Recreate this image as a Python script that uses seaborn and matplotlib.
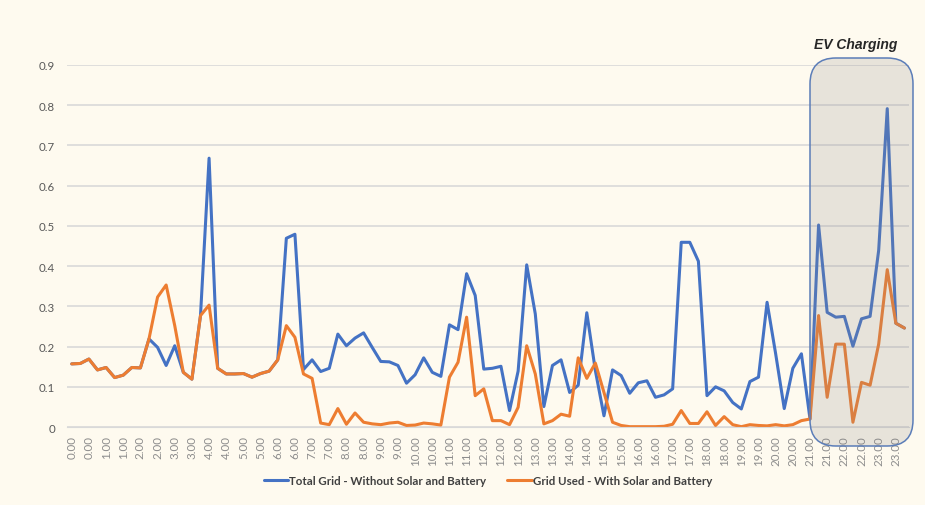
import matplotlib
matplotlib.use("Agg")
import matplotlib.pyplot as plt
from matplotlib.patches import FancyBboxPatch
import pandas as pd
import numpy as np
import seaborn as sns

# readings, every 15 min-ish (98 points)
total_grid = [0.157, 0.158, 0.169, 0.142, 0.148, 0.123, 0.129, 0.148, 0.147, 0.219,
              0.198, 0.153, 0.202, 0.136, 0.119, 0.277, 0.668, 0.146, 0.132, 0.132,
              0.133, 0.124, 0.133, 0.139, 0.167, 0.469, 0.479, 0.143, 0.167, 0.138,
              0.146, 0.231, 0.202, 0.221, 0.234, 0.198, 0.163, 0.162, 0.153, 0.109,
              0.130, 0.172, 0.136, 0.126, 0.254, 0.242, 0.381, 0.327, 0.144, 0.146,
              0.151, 0.041, 0.139, 0.403, 0.281, 0.051, 0.153, 0.167, 0.086, 0.104,
              0.284, 0.140, 0.028, 0.142, 0.128, 0.084, 0.110, 0.115, 0.074, 0.080,
              0.095, 0.459, 0.459, 0.412, 0.078, 0.100, 0.090, 0.061, 0.045, 0.113,
              0.124, 0.310, 0.182, 0.046, 0.146, 0.182, 0.020, 0.502, 0.285, 0.273,
              0.275, 0.201, 0.269, 0.275, 0.439, 0.791, 0.258, 0.246]

grid_used = [0.157, 0.158, 0.169, 0.142, 0.148, 0.123, 0.129, 0.148, 0.147, 0.219,
             0.323, 0.353, 0.252, 0.136, 0.119, 0.277, 0.303, 0.146, 0.132, 0.132,
             0.133, 0.124, 0.133, 0.139, 0.167, 0.252, 0.223, 0.132, 0.121, 0.010,
             0.006, 0.046, 0.007, 0.035, 0.012, 0.008, 0.006, 0.010, 0.012, 0.004,
             0.005, 0.010, 0.008, 0.005, 0.124, 0.161, 0.273, 0.078, 0.095, 0.016,
             0.016, 0.006, 0.049, 0.202, 0.132, 0.008, 0.016, 0.032, 0.027, 0.172,
             0.121, 0.159, 0.086, 0.012, 0.004, 0.001, 0.001, 0.001, 0.001, 0.002,
             0.007, 0.041, 0.009, 0.009, 0.038, 0.004, 0.026, 0.006, 0.001, 0.006,
             0.004, 0.003, 0.006, 0.003, 0.006, 0.016, 0.020, 0.277, 0.074, 0.206,
             0.206, 0.012, 0.111, 0.104, 0.206, 0.391, 0.258, 0.246]

time_labels = ["0.00", "0.00", "1.00", "1.00", "2.00", "2.00", "3.00", "3.00",
               "4.00", "4.00", "5.00", "5.00", "6.00", "6.00", "7.00", "7.00",
               "8.00", "8.00", "9.00", "9.00", "10.00", "10.00", "11.00", "11.00",
               "12.00", "12.00", "12.00", "13.00", "13.00", "14.00", "14.00",
               "15.00", "15.00", "16.00", "16.00", "17.00", "17.00", "18.00",
               "18.00", "19.00", "19.00", "20.00", "20.00", "21.00", "21.00",
               "22.00", "22.00", "23.00", "23.00"]

series_names = ["Total Grid - Without Solar and Battery",
                "Grid Used - With Solar and Battery"]

df = pd.DataFrame({"step": np.arange(len(total_grid)),
                   series_names[0]: total_grid,
                   series_names[1]: grid_used})
long_df = df.melt(id_vars="step", var_name="series", value_name="kwh")

sns.set_style("white")
plt.rcParams["font.family"] = ["Lato", "DejaVu Sans"]

bg = "#FEFAEF"
fig = plt.figure(figsize=(9.25, 5.06), dpi=100, facecolor=bg)
ax = fig.add_axes([0.0729, 0.154, 0.9095, 0.716])
ax.set_facecolor(bg)

sns.lineplot(data=long_df, x="step", y="kwh", hue="series",
             palette=["#4472C4", "#ED7D31"], linewidth=2.2, ax=ax, legend=True)

ax.set_xlim(-0.5, len(total_grid) - 0.5)
ax.set_ylim(0, 0.9)
ax.set_yticks(np.arange(0, 0.91, 0.1))
ax.set_yticklabels(["0" if v == 0 else f"{v:.1f}" for v in np.arange(0, 0.91, 0.1)])
ax.yaxis.grid(True, color="#D9D9D9", linewidth=1.2)
ax.set_axisbelow(True)

ax.set_xticks(np.arange(0, len(total_grid), 2))
ax.set_xticklabels(time_labels, rotation=90)
ax.set_xticks(np.arange(len(total_grid)), minor=True)
ax.tick_params(axis="x", which="both", length=3, color="#D0D0D0",
               labelsize=8.3, labelcolor="#8C8C8C", pad=3)
ax.tick_params(axis="y", length=0, labelsize=8.3, labelcolor="#595959", pad=9)
ax.set_xlabel("")
ax.set_ylabel("")
for s in ["top", "right", "left"]:
    ax.spines[s].set_visible(False)
ax.spines["bottom"].set_color("#D9D9D9")

# EV charging highlight box
box_xy = (810 / 925, 59 / 506)
box_w, box_h = 103 / 925, 388 / 506
box = FancyBboxPatch(box_xy, box_w, box_h,
                     boxstyle="round,pad=0,rounding_size=0.028",
                     transform=fig.transFigure, facecolor="#8F8B88", alpha=0.2,
                     edgecolor="none", zorder=5, mutation_aspect=925 / 506)
fig.patches.append(box)
box_edge = FancyBboxPatch(box_xy, box_w, box_h,
                          boxstyle="round,pad=0,rounding_size=0.028",
                          transform=fig.transFigure, facecolor="none",
                          edgecolor="#5B7DB8", linewidth=1.1, zorder=6,
                          mutation_aspect=925 / 506)
fig.patches.append(box_edge)
fig.text(856 / 925, 1 - 45 / 506, "EV Charging", ha="center", va="center",
         fontsize=10, fontweight="bold", style="italic", color="#262626",
         family=["Liberation Sans", "DejaVu Sans"])

leg = ax.legend(loc="center", bbox_to_anchor=(0.5, -53 / 362), ncol=2,
                frameon=False, fontsize=8.3, handlelength=2.1, columnspacing=1.8,
                handletextpad=0.15)
for t in leg.get_texts():
    t.set_color("#404040")
    t.set_fontweight("bold")
for h in leg.legend_handles:
    h.set_linewidth(2.2)

fig.savefig("out.png", dpi=100, facecolor=bg)
